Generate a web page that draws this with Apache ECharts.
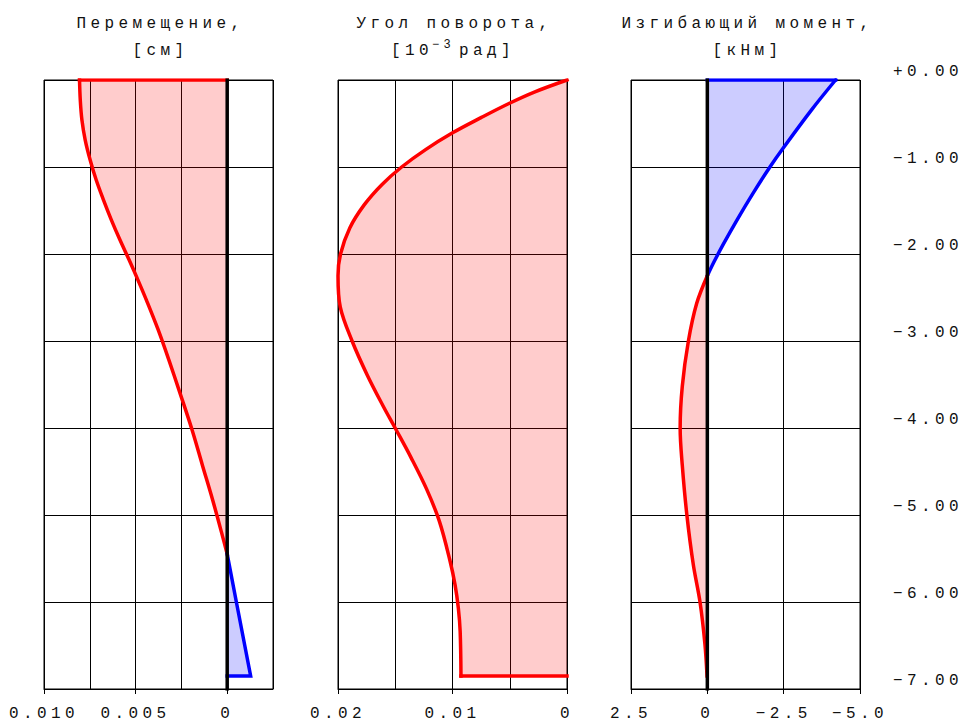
<!DOCTYPE html>
<html><head><meta charset="utf-8">
<script src="https://cdn.jsdelivr.net/npm/echarts@6/dist/echarts.min.js"></script>
<style>
html,body{margin:0;padding:0;background:#fff;}
#c{width:963px;height:722px;}
#c text{letter-spacing:4.4px;}
</style></head><body><div id="c"></div>
<script>
// ---- tick labels ----
const depthTicks = [0, -1, -2, -3, -4, -5, -6, -7];
const depthTickLabels = ['+0.00', '−1.00', '−2.00', '−3.00', '−4.00', '−5.00', '−6.00', '−7.00'];
const dispTicks = [0.010, 0.005, 0];
const dispTickLabels = ['0.010', '0.005', '0'];
const rotTicks = [0.02, 0.01, 0];
const rotTickLabels = ['0.02', '0.01', '0'];
const momTicks = [2.5, 0, -2.5, -5];
const momTickLabels = ['2.5', '0', '−2.5', '−5.0'];

// ---- titles ----
const titles = ['Перемещение,', 'Угол поворота,', 'Изгибающий момент,'];
const units = ['[см]', null, '[кНм]'];
const rotUnitParts = ['[10', '−3', 'рад]'];

// ---- Displacement [cm] (value vs depth) ----
const dispRedDepth = [0, -0.23, -0.46, -0.69, -0.92, -1.15, -1.38, -1.61, -1.84, -2.07, -2.30, -2.53, -2.87, -3.22, -3.59, -4.02, -4.43, -4.83, -5.20, -5.45];
const dispRedValue = [0.00806, 0.00802, 0.00793, 0.00775, 0.00748, 0.00715, 0.00675, 0.00632, 0.00585, 0.00535, 0.00487, 0.00441, 0.00377, 0.00318, 0.00259, 0.00192, 0.00135, 0.00079, 0.00031, 0];
const dispBlueDepth = [-5.45, -6.0, -6.85];
const dispBlueValue = [0, -0.0005, -0.00128];

// ---- Rotation [1e-3 rad] ----
const rotDepth = [0, -0.136, -0.27, -0.43, -0.61, -0.80, -1.0, -1.2, -1.43, -1.70, -2.0, -2.25, -2.61, -3.0, -3.39, -3.75, -4.0, -4.34, -4.70, -5.07, -5.52, -5.80, -6.07, -6.34, -6.85];
const rotValue = [0, 0.0028, 0.00507, 0.00747, 0.01003, 0.01235, 0.01444, 0.01615, 0.01768, 0.01897, 0.01978, 0.0200, 0.0198, 0.01877, 0.01745, 0.01605, 0.01501, 0.01362, 0.01227, 0.01115, 0.01023, 0.00978, 0.00949, 0.00933, 0.00926];

// ---- Bending moment [kNm] ----
const momBlueDepth = [0, -0.34, -0.77, -1.0, -1.30, -1.61, -1.89, -2.09, -2.25];
const momBlueValue = [-4.20, -3.42, -2.51, -2.05, -1.50, -0.97, -0.52, -0.22, 0];
const momRedDepth = [-2.25, -2.57, -3.0, -3.52, -4.0, -4.43, -5.0, -5.57, -6.0, -6.48, -6.85];
const momRedValue = [0, 0.35, 0.62, 0.82, 0.89, 0.82, 0.67, 0.46, 0.24, 0.08, 0.01];

const RED = '#ff0000', BLUE = '#0000ff';
const FILL_RED = 'rgba(255,0,0,0.2)', FILL_BLUE = 'rgba(0,0,255,0.2)';
const FONT = '"Liberation Mono", "DejaVu Sans Mono", monospace';
const TXT = '#111';

function zip(vals, depths) { return vals.map((v, i) => [v, depths[i]]); }
function lab(v, ticks, labels) {
  for (let i = 0; i < ticks.length; i++) if (Math.abs(ticks[i] - v) < 1e-9) return labels[i];
  return '';
}
function fill(pts, color, idx) {
  return {
    type: 'custom', xAxisIndex: idx, yAxisIndex: idx, z: 1, silent: true,
    data: [pts[0]],
    renderItem: (params, api) => ({
      type: 'polygon',
      shape: { points: pts.map(p => api.coord(p)) },
      style: { fill: color }
    })
  };
}
function line(pts, color, idx, smooth, w) {
  return {
    type: 'line', xAxisIndex: idx, yAxisIndex: idx, z: 2, silent: true,
    data: pts, showSymbol: false, symbol: 'none', smooth: smooth ? 0.35 : false,
    lineStyle: { color: color, width: w || 3.5, cap: 'square', join: 'miter' }
  };
}

const dispRed = zip(dispRedValue, dispRedDepth);
const dispBlue = zip(dispBlueValue, dispBlueDepth);
const rot = zip(rotValue, rotDepth);
const momBlue = zip(momBlueValue, momBlueDepth);
const momRed = zip(momRedValue, momRedDepth);

const lastRot = rot[rot.length - 1];
const lastMomRed = momRed[momRed.length - 1];
const lastDispBlue = dispBlue[dispBlue.length - 1];

const GL = [44, 338, 631], GW = 229, GT = 80, GH = 609;
const XR = [[-0.0025, 0.010, 0.0025], [0, 0.02, 0.005], [-5, 2.5, 2.5]];
const XT = [[dispTicks, dispTickLabels], [rotTicks, rotTickLabels], [momTicks, momTickLabels]];

// grid axes: split lines + frame
function xAxisGrid(idx) {
  return {
    type: 'value', gridIndex: idx, position: 'bottom', offset: 0,
    min: XR[idx][0], max: XR[idx][1], interval: XR[idx][2], inverse: true,
    axisLine: { show: true, onZero: false, lineStyle: { color: '#000', width: 1 } },
    axisTick: { show: false }, axisLabel: { show: false },
    splitLine: { show: true, lineStyle: { color: '#000', width: 1 } }
  };
}
// label axes: only the labelled ticks
function xAxisLabels(idx) {
  const ticks = XT[idx][0], labels = XT[idx][1];
  return {
    type: 'value', gridIndex: idx, position: 'bottom', offset: 0,
    min: XR[idx][0], max: XR[idx][1], interval: XR[idx][2], inverse: true,
    axisLine: { show: false, onZero: false },
    axisTick: { show: true, customValues: ticks, length: 5, lineStyle: { color: '#000', width: 1 } },
    axisLabel: { show: true, customValues: ticks, formatter: v => lab(v, ticks, labels),
      margin: 17, fontFamily: FONT, fontSize: 16, color: TXT },
    splitLine: { show: false }
  };
}
function yAxis(idx, showLabels) {
  return {
    type: 'value', gridIndex: idx, min: -7, max: 0, interval: 1,
    position: showLabels ? 'right' : 'left',
    axisLine: { show: false, onZero: false },
    axisTick: { show: false },
    axisLabel: { show: !!showLabels, formatter: v => lab(v, depthTicks, depthTickLabels),
      margin: 33, align: 'left', verticalAlign: 'bottom', fontFamily: FONT, fontSize: 16, color: TXT },
    splitLine: { show: true, lineStyle: { color: '#000', width: 1 } }
  };
}

const graphics = [];
for (let i = 0; i < 3; i++) {
  graphics.push({ type: 'text', x: GL[i] + GW / 2 + 2, y: 24,
    style: { text: titles[i], font: '16px ' + FONT, fill: TXT, align: 'center', verticalAlign: 'middle' } });
  if (units[i]) graphics.push({ type: 'text', x: GL[i] + GW / 2 + 2, y: 51,
    style: { text: units[i], font: '16px ' + FONT, fill: TXT, align: 'center', verticalAlign: 'middle' } });
}
graphics.push({ type: 'text', x: 391, y: 51, style: { text: rotUnitParts[0], font: '16px ' + FONT, fill: TXT, align: 'left', verticalAlign: 'middle' } });
graphics.push({ type: 'text', x: 432, y: 45, style: { text: rotUnitParts[1], font: '12px ' + FONT, fill: TXT, align: 'left', verticalAlign: 'middle' } });
graphics.push({ type: 'text', x: 459, y: 51, style: { text: rotUnitParts[2], font: '16px ' + FONT, fill: TXT, align: 'left', verticalAlign: 'middle' } });

const option = {
  animation: false,
  backgroundColor: '#fff',
  textStyle: { fontFamily: FONT },
  grid: GL.map(l => ({ left: l, top: GT, width: GW, height: GH, show: true, borderColor: '#000', borderWidth: 1, containLabel: false })),
  xAxis: [xAxisGrid(0), xAxisGrid(1), xAxisGrid(2), xAxisLabels(0), xAxisLabels(1), xAxisLabels(2)],
  yAxis: [yAxis(0, false), yAxis(1, false), yAxis(2, true)],
  graphic: graphics,
  series: [
    // fills
    fill([[0, 0]].concat(dispRed), FILL_RED, 0),
    fill(dispBlue.concat([[0, lastDispBlue[1]]]), FILL_BLUE, 0),
    fill(rot.concat([[0, lastRot[1]]]), FILL_RED, 1),
    fill([[0, 0]].concat(momBlue), FILL_BLUE, 2),
    fill(momRed.concat([[0, lastMomRed[1]]]), FILL_RED, 2),
    // outlines
    line([[0, 0], dispRed[0]], RED, 0, false),
    line(dispRed, RED, 0, true),
    line(dispBlue.concat([[0, lastDispBlue[1]]]), BLUE, 0, false),
    line(rot, RED, 1, true),
    line([lastRot, [0, lastRot[1]]], RED, 1, false),
    line([[0, 0], momBlue[0]], BLUE, 2, false),
    line(momBlue, BLUE, 2, true),
    line(momRed, RED, 2, true),
    // zero lines
    Object.assign(line([[0, 0], [0, -7]], '#000', 0, false, 3.5), { z: 3 }),
    Object.assign(line([[0, 0], [0, -7]], '#000', 2, false, 3.5), { z: 3 })
  ]
};
const chart = echarts.init(document.getElementById('c'), null, { renderer: 'svg', width: 963, height: 722 });
chart.setOption(option);
</script></body></html>
